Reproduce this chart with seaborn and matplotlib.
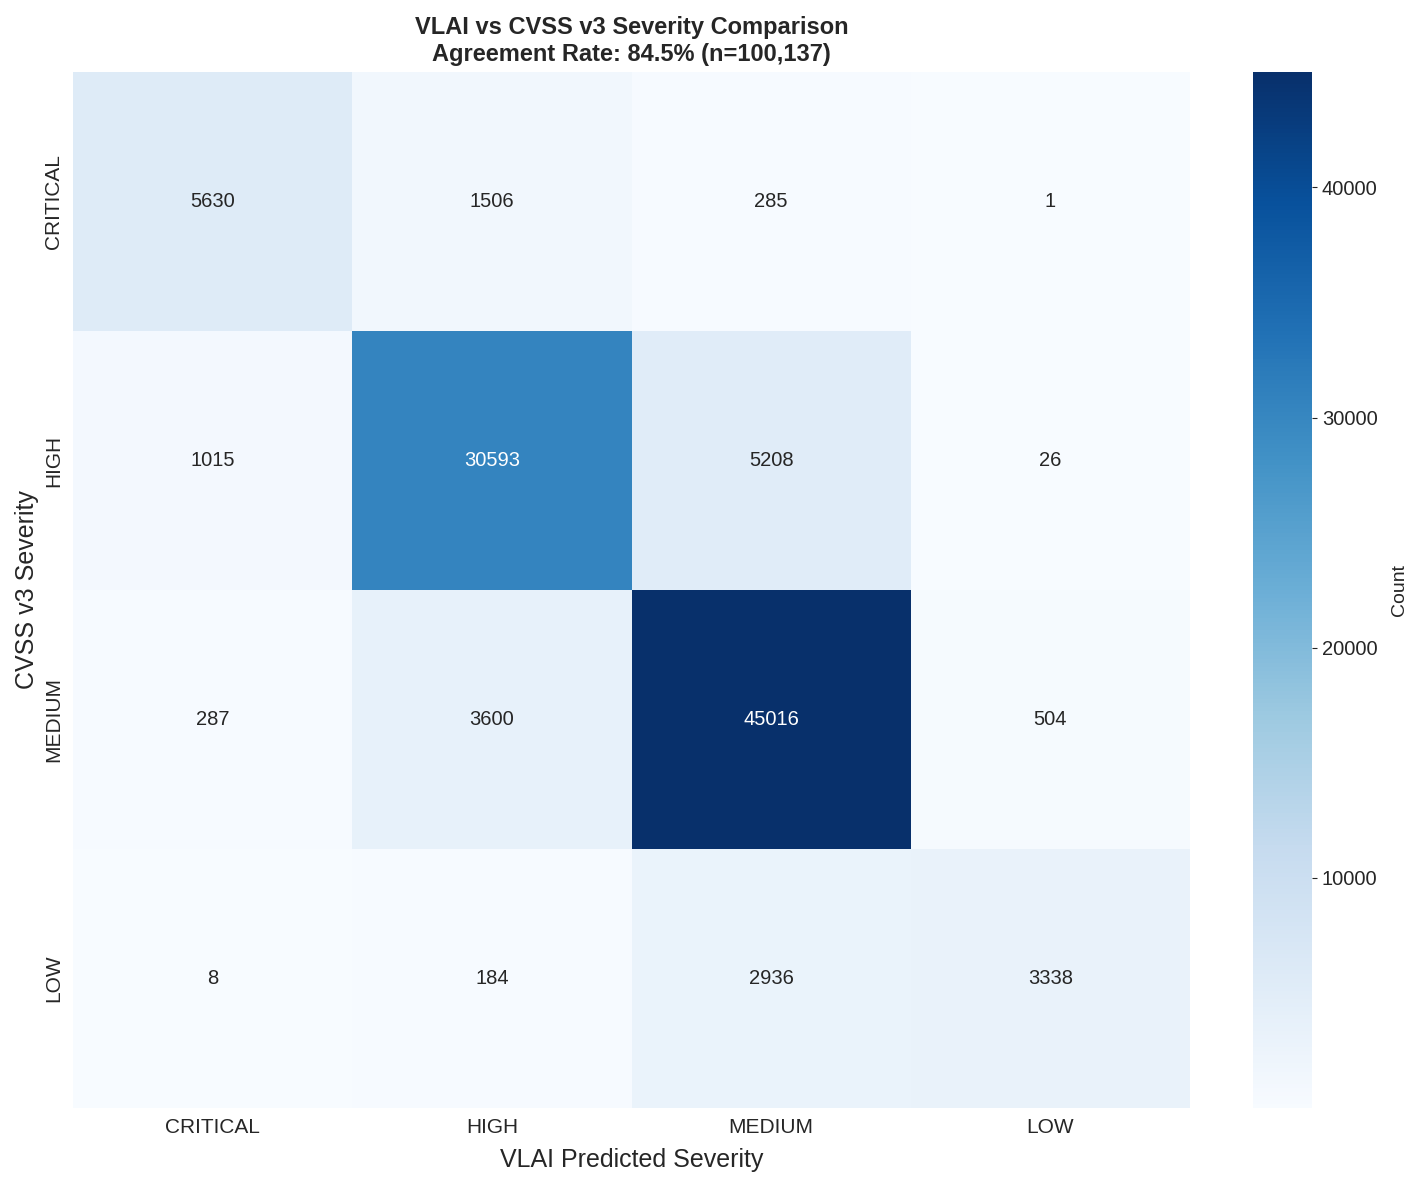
"""Confusion heatmap of VLAI predicted vs CVSS v3 severity."""

import matplotlib
matplotlib.use("Agg")
import matplotlib.pyplot as plt
import numpy as np
import pandas as pd
import seaborn as sns

LABELS = ["CRITICAL", "HIGH", "MEDIUM", "LOW"]
ROW_CRITICAL = [5630, 1506, 285, 1]
ROW_HIGH = [1015, 30593, 5208, 26]
ROW_MEDIUM = [287, 3600, 45016, 504]
ROW_LOW = [8, 184, 2936, 3338]

sns.set_style("whitegrid")
plt.rcParams["font.family"] = ["Liberation Sans", "DejaVu Sans"]


def main():
    cm = pd.DataFrame(np.array([ROW_CRITICAL, ROW_HIGH, ROW_MEDIUM, ROW_LOW]),
                      index=LABELS, columns=LABELS)
    n = int(cm.values.sum())
    agree = np.trace(cm.values) / n * 100

    fig = plt.figure(figsize=(14.19, 11.83), dpi=100)
    ax = fig.add_axes([73/1419, 1 - 1108/1183, (1190-73)/1419, (1108-72)/1183])
    cax = fig.add_axes([1253/1419, 1 - 1108/1183, (1312-1253)/1419, (1108-72)/1183])
    sns.heatmap(cm, annot=True, fmt="d", cmap="Blues", ax=ax, cbar_ax=cax,
                annot_kws={"size": 14.5}, cbar_kws={"label": "Count"})
    ax.set_title(f"VLAI vs CVSS v3 Severity Comparison\n"
                 f"Agreement Rate: {agree:.1f}% (n={n:,})",
                 fontsize=17, fontweight="bold", pad=8)
    ax.set_xlabel("VLAI Predicted Severity", fontsize=18, labelpad=8)
    ax.set_ylabel("CVSS v3 Severity", fontsize=18)
    ax.tick_params(labelsize=15)
    cax.tick_params(labelsize=14.5)
    cax.set_ylabel("Count", fontsize=14, labelpad=10)
    cax.set_frame_on(False)
    fig.savefig("out.png", dpi=100)


if __name__ == "__main__":
    main()
